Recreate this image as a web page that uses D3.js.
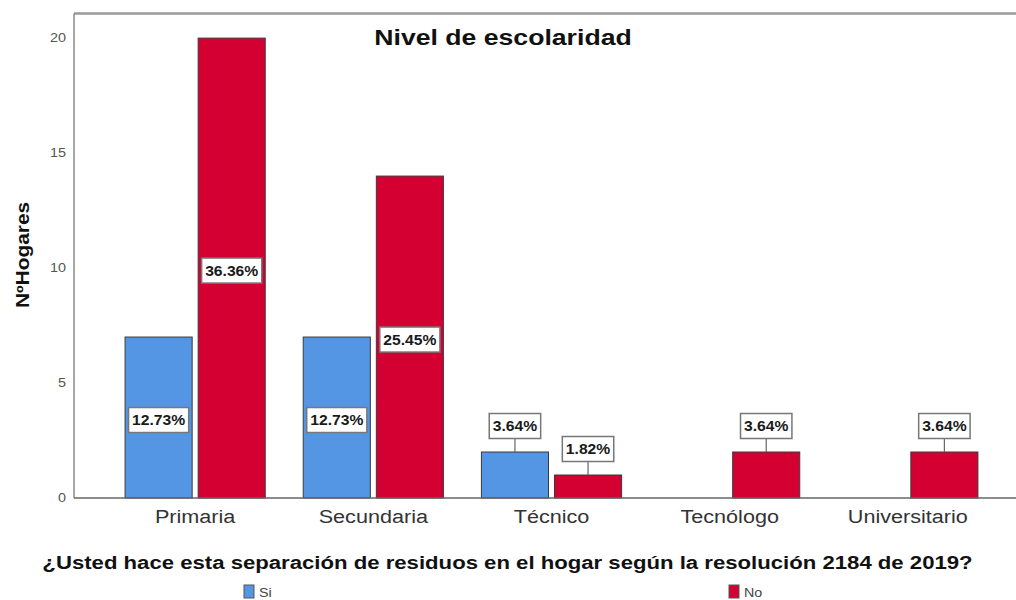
<!DOCTYPE html>
<html><head><meta charset="utf-8">
<script src="https://cdn.jsdelivr.net/npm/d3@7"></script>
<style>body{margin:0;background:#fff}svg{display:block}</style>
</head><body><svg id="c" width="1016" height="600"></svg>
<script>
const categories = ["Primaria","Secundaria","Técnico","Tecnólogo","Universitario"];
const seriesNames = ["Si","No"];
const siValues = [7,7,2,0,0];
const noValues = [20,14,1,2,2];
const yTicks = [0,5,10,15,20];
const title = "Nivel de escolaridad";
const yTitle = "NºHogares";
const legendTitle = "¿Usted hace esta separación de residuos en el hogar según la resolución 2184 de 2019?";
const colors = {Si:"#5596e4", No:"#d50032"};

(function(){
const K = 1.2; // horizontal text stretch
const svg = d3.select("#c");
const total = d3.sum(siValues)+d3.sum(noValues);
const fmt = v => d3.format(".2f")(v/total*100)+"%";

function stretch(sel,k){ sel.each(function(){ const w=this.getComputedTextLength(); d3.select(this).attr("textLength",w*k).attr("lengthAdjust","spacingAndGlyphs"); }); return sel; }

const pl=74, pt=13.5, pb=498, pr=1029;
const y = d3.scaleLinear().domain([0,21.07]).range([pb,pt]);
const x0 = d3.scaleBand().domain(categories).range([pl,pr]).paddingInner(0).paddingOuter(0.18);
const x1 = d3.scaleBand().domain(seriesNames).range([0,x0.bandwidth()]).paddingInner(0.082).paddingOuter(0.26);

// frame
svg.append("line").attr("x1",pl).attr("x2",1016).attr("y1",pt).attr("y2",pt).attr("stroke","#9a9a9a").attr("stroke-width",2.5);
svg.append("line").attr("x1",pl).attr("x2",pl).attr("y1",pt).attr("y2",pb).attr("stroke","#8a8a8a").attr("stroke-width",1.5);

// y ticks
const yAxis = svg.append("g").attr("transform",`translate(${pl},0)`).call(d3.axisLeft(y).tickValues(yTicks).tickSize(0).tickPadding(8));
yAxis.select(".domain").remove();
yAxis.selectAll("text").attr("font-family","Liberation Sans, Arial, sans-serif").attr("font-size",12).attr("fill","#555");
stretch(yAxis.selectAll("text"),K);

// bars
const data = categories.map((c,i)=>({cat:c, vals:[{s:"Si",v:siValues[i]},{s:"No",v:noValues[i]}]}));
const g = svg.append("g");
const groups = g.selectAll("g.grp").data(data).join("g").attr("class","grp").attr("transform",d=>`translate(${x0(d.cat)},0)`);
groups.selectAll("rect").data(d=>d.vals.filter(e=>e.v>0)).join("rect")
  .attr("x",d=>x1(d.s)).attr("width",x1.bandwidth())
  .attr("y",d=>y(d.v)).attr("height",d=>y(0)-y(d.v))
  .attr("fill",d=>colors[d.s]).attr("stroke","#3a3a3a").attr("stroke-width",1);

// bottom axis
const xAxis = svg.append("g").attr("transform",`translate(0,${pb})`).call(d3.axisBottom(x0).tickSize(0).tickPadding(12));
xAxis.select(".domain").remove();
svg.append("line").attr("x1",pl).attr("x2",1016).attr("y1",pb).attr("y2",pb).attr("stroke","#666").attr("stroke-width",1.5);
xAxis.selectAll("text").attr("font-family","Liberation Sans, Arial, sans-serif").attr("font-size",18).attr("fill","#333").attr("dy","0.71em");
stretch(xAxis.selectAll("text"),K);

// value labels
groups.each(function(d){
  const gg = d3.select(this);
  d.vals.filter(e=>e.v>0).forEach(e=>{
    const cx = x1(e.s)+x1.bandwidth()/2;
    const inside = e.v>=5;
    const cy = inside ? y(e.v/2)+2.5 : y(e.v)-26;
    const lg = gg.append("g");
    const t = lg.append("text").attr("x",cx).attr("y",cy).attr("text-anchor","middle").attr("dominant-baseline","central")
      .attr("font-family","Liberation Sans, Arial, sans-serif").attr("font-weight","bold").attr("font-size",14.5).attr("fill","#1a1a1a").text(fmt(e.v));
    stretch(t,1.08);
    const w = t.node().getComputedTextLength()+7, h=25;
    if(!inside){
      lg.insert("line","text").attr("x1",cx).attr("x2",cx).attr("y1",cy+h/2).attr("y2",y(e.v)).attr("stroke","#666").attr("stroke-width",1.2);
    }
    lg.insert("rect","text").attr("x",cx-w/2).attr("y",cy-h/2).attr("width",w).attr("height",h).attr("fill","#fff").attr("stroke","#777").attr("stroke-width",1.5);
  });
});

// title
stretch(svg.append("text").attr("x",503).attr("y",45).attr("text-anchor","middle").attr("font-family","Liberation Sans, Arial, sans-serif")
  .attr("font-weight","bold").attr("font-size",22).attr("fill","#111").text(title),1.21);

// y title
stretch(svg.append("text").attr("transform","translate(29,255) rotate(-90)").attr("text-anchor","middle").attr("font-family","Liberation Sans, Arial, sans-serif")
  .attr("font-weight","bold").attr("font-size",18).attr("fill","#111").text(yTitle),1.16);

// legend title
stretch(svg.append("text").attr("x",507.5).attr("y",569).attr("text-anchor","middle").attr("font-family","Liberation Sans, Arial, sans-serif")
  .attr("font-weight","bold").attr("font-size",18).attr("fill","#111").text(legendTitle),1.23);

// legend items
const legendX = {Si:244, No:729};
seriesNames.forEach(s=>{
  svg.append("rect").attr("x",legendX[s]).attr("y",585).attr("width",10).attr("height",13).attr("fill",colors[s]).attr("stroke","#555").attr("stroke-width",1);
  stretch(svg.append("text").attr("x",legendX[s]+15).attr("y",597).attr("font-family","Liberation Sans, Arial, sans-serif")
    .attr("font-size",13).attr("fill","#444").text(s),1.1);
});
})();
</script></body></html>
